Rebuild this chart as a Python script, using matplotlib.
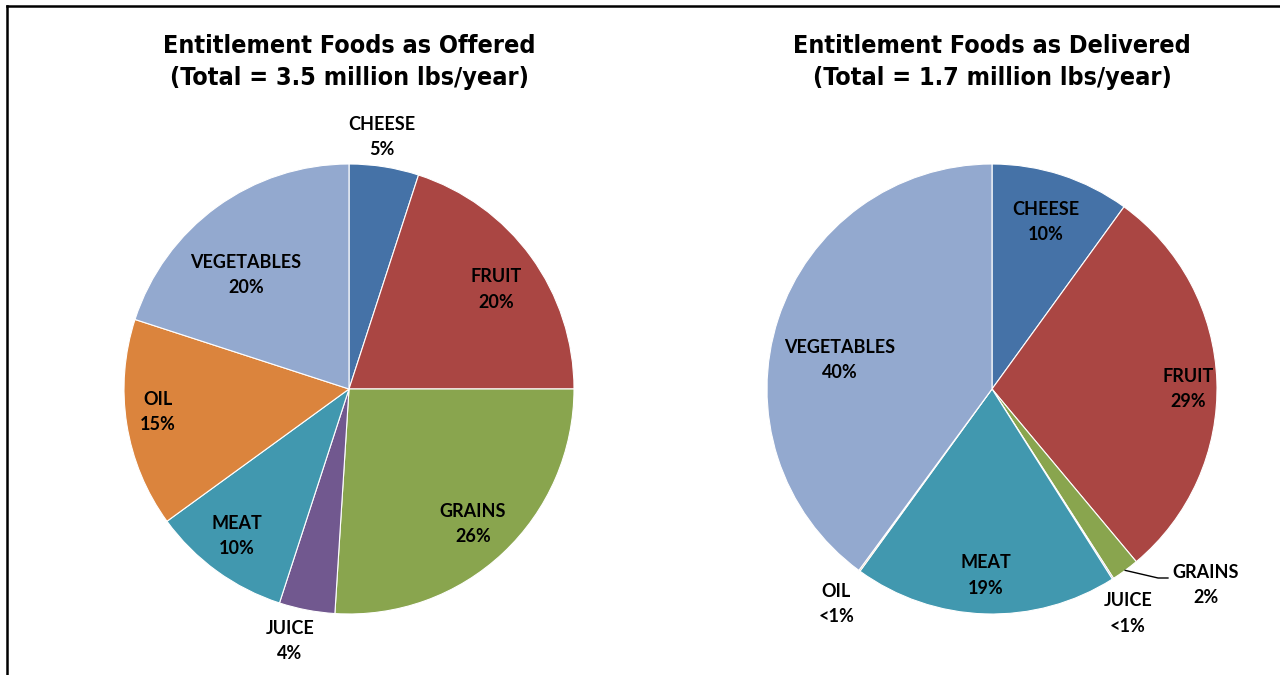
import numpy as np
import matplotlib
matplotlib.use("Agg")
import matplotlib.pyplot as plt
from matplotlib.lines import Line2D

# food groups, same order for both pies
foods = ["CHEESE", "FRUIT", "GRAINS", "JUICE", "MEAT", "OIL", "VEGETABLES"]
colors = ["#4572A7", "#AA4643", "#89A54E", "#71588F", "#4198AF", "#DB843D", "#93A9CF"]

offered = [5, 20, 26, 4, 10, 15, 20]
offered_pct = ["5%", "20%", "26%", "4%", "10%", "15%", "20%"]

delivered = [10, 29, 2, 0.1, 19, 0.1, 40]
delivered_pct = ["10%", "29%", "2%", "<1%", "19%", "<1%", "40%"]

# label radius (fraction of pie radius) and angle shift in degrees, per slice
offered_lbl = [(1.13, 1.5), (0.79, -2), (0.815, -0.6), (1.15, -2.4),
               (0.82, -1.3), (0.855, -2.1), (0.683, 6.1)]
delivered_lbl = [(0.78, 0), (0.871, -2), (1.29, 11.2), (1.166, -1.3),
                 (0.83, 0), (1.18, 0.2), (0.688, 7.3)]

label_font = ["Lato", "DejaVu Sans"]

fig = plt.figure(figsize=(12.8, 6.75), dpi=100)

def draw_pie(cx, title, vals, pcts, lbl, leader=None):
    W, H = 1280, 675
    R = 225
    ax = fig.add_axes([(cx - R) / W, (H - 389 - R) / H, 2 * R / W, 2 * R / H])
    wedges, _ = ax.pie(vals, colors=colors, startangle=90, counterclock=False,
                       wedgeprops=dict(edgecolor="white", linewidth=0.8))
    ax.set_xlim(-1, 1)
    ax.set_ylim(-1, 1)
    ax.set_aspect("equal")
    for i, w in enumerate(wedges):
        mid = np.deg2rad((w.theta1 + w.theta2) / 2 + lbl[i][1])
        r = lbl[i][0]
        ax.text(r * np.cos(mid), r * np.sin(mid), foods[i] + "\n" + pcts[i],
                ha="center", va="center", fontsize=13, fontweight="bold",
                family=label_font, linespacing=1.6, clip_on=False)
    if leader is not None:
        w = wedges[leader]
        mid = np.deg2rad((w.theta1 + w.theta2) / 2)
        x0, y0 = np.cos(mid), np.sin(mid)
        ax.add_line(Line2D([x0, 0.738, 0.782], [y0, -0.84, -0.84],
                           color="black", lw=1.0, clip_on=False))
    for k, y in enumerate([46, 78]):
        fig.text(cx / W, 1 - y / H, title[k], ha="center", va="center",
                 fontsize=18, fontweight="bold", family="DejaVu Sans",
                 fontstretch="condensed")

draw_pie(349, ["Entitlement Foods as Offered", "(Total = 3.5 million lbs/year)"],
         offered, offered_pct, offered_lbl)
draw_pie(992, ["Entitlement Foods as Delivered", "(Total = 1.7 million lbs/year)"],
         delivered, delivered_pct, delivered_lbl, leader=2)

# border on top and left
fig.add_artist(Line2D([7 / 1280, 7 / 1280], [0, 1 - 6 / 675], color="black", lw=1.8))
fig.add_artist(Line2D([7 / 1280, 1], [1 - 6 / 675, 1 - 6 / 675], color="black", lw=1.8))

fig.savefig("out.png", dpi=100, facecolor="white")
